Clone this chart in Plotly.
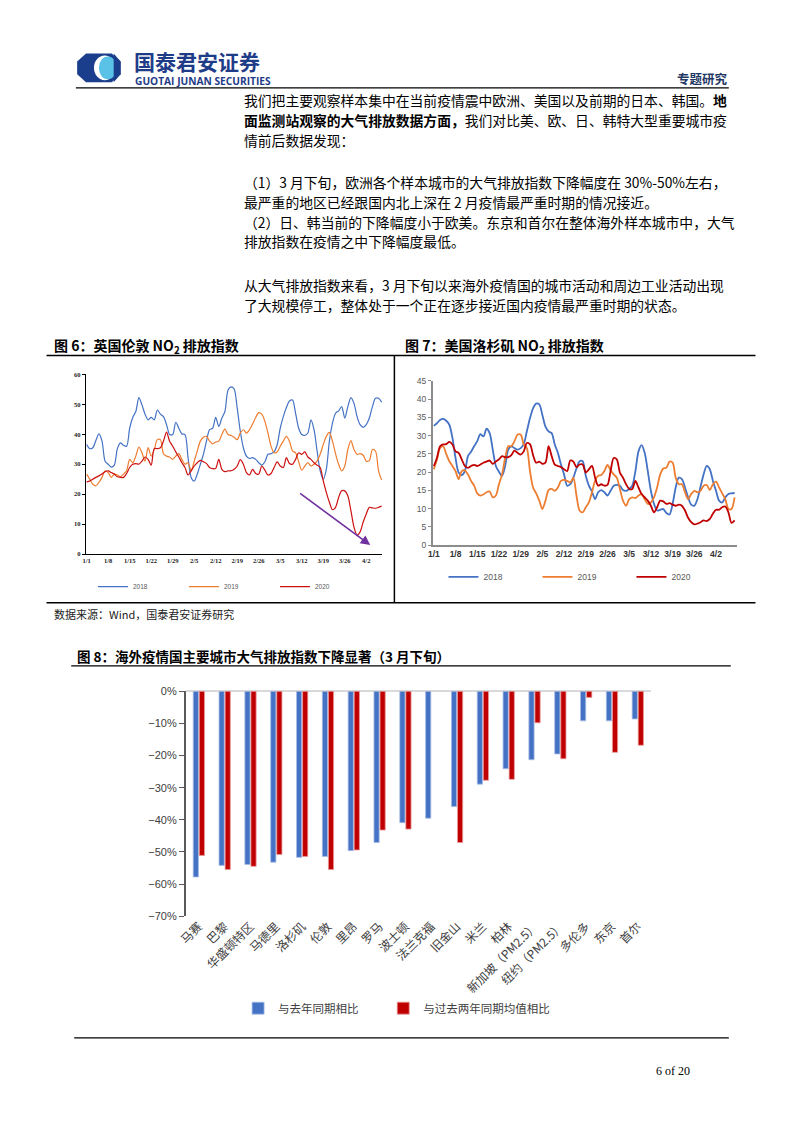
import plotly.graph_objects as go

W, H = 793, 1122
def X(px): return px / W
def Y(py): return 1 - py / H

CJK = "Noto Sans CJK SC"

# ---------------- data ----------------
TICK_LABELS = ["1/1", "1/8", "1/15", "1/22", "1/29", "2/5", "2/12", "2/19",
               "2/26", "3/5", "3/12", "3/19", "3/26", "4/2"]
SERIES_NAMES = ["2018", "2019", "2020"]

LONDON_2018 = [36.6, 35.2, 35.5, 37.9, 40.1, 37.7, 31.0, 30.0, 29.0, 29.7, 35.2, 37.1, 36.3, 36.0,
               42.0, 45.6, 47.6, 52.2, 49.8, 46.7, 44.8, 45.6, 44.8, 48.1, 46.7, 45.9, 43.2, 39.9,
               39.9, 44.0, 42.0, 40.1, 39.9, 32.2, 25.6, 24.4, 26.7, 30.0, 33.3, 37.7, 41.5, 42.0,
               45.6, 42.6, 45.4, 47.6, 54.7, 55.8, 55.1, 48.7, 41.0, 35.5, 32.7, 31.9, 32.2, 31.6,
               30.5, 29.7, 30.8, 33.3, 33.5, 34.1, 36.5, 42.0, 45.9, 48.9, 51.1, 51.4, 47.0, 42.0,
               39.9, 39.6, 40.4, 44.8, 41.5, 34.4, 27.8, 25.0, 28.3, 37.7, 43.7, 47.0, 47.8, 49.2,
               45.4, 49.2, 52.2, 50.3, 45.9, 43.2, 42.3, 43.2, 45.4, 49.2, 52.0, 52.0, 50.7]
LONDON_2019 = [26.7, 25.0, 23.3, 22.8, 23.9, 25.6, 27.8, 27.2, 25.6, 26.7, 26.4, 25.8, 26.7, 27.8,
               31.6, 30.5, 32.7, 35.7, 33.8, 31.0, 35.5, 32.7, 34.9, 38.2, 38.2, 33.5, 32.7, 32.4,
               31.6, 32.7, 33.5, 31.6, 30.0, 30.5, 27.8, 31.0, 34.4, 37.7, 39.0, 39.3, 37.7, 36.8,
               37.4, 37.7, 39.9, 41.7, 39.9, 39.6, 39.0, 38.2, 40.4, 41.5, 40.4, 41.5, 43.4, 45.6,
               47.2, 46.7, 44.3, 40.4, 36.0, 33.8, 34.1, 36.0, 37.7, 39.3, 37.7, 34.4, 33.8, 30.8,
               28.0, 29.4, 30.5, 29.4, 30.0, 31.0, 33.3, 36.6, 39.3, 40.6, 37.7, 33.5, 30.0, 27.8,
               29.4, 34.9, 37.9, 34.9, 33.3, 33.5, 33.0, 31.0, 31.2, 34.9, 34.4, 27.8, 24.7]
LONDON_2020 = [24.1, 24.4, 25.0, 25.6, 26.1, 26.7, 27.5, 27.8, 27.2, 26.7, 25.8, 25.6, 25.6, 26.9,
               28.9, 30.0, 30.2, 30.0, 31.0, 32.4, 31.6, 29.7, 35.2, 35.2, 35.5, 37.7, 40.7, 37.7,
               36.0, 34.1, 32.4, 30.5, 28.9, 26.4, 27.8, 29.4, 30.5, 31.3, 30.8, 30.2, 28.9, 28.5,
               28.6, 31.6, 28.3, 27.5, 27.8, 27.8, 28.3, 29.4, 31.5, 30.0, 27.2, 26.4, 28.3, 26.9,
               26.7, 29.4, 28.0, 26.4, 26.9, 28.9, 30.8, 29.4, 28.9, 32.2, 30.2, 30.0, 31.6, 33.8,
               33.3, 34.1, 32.4, 31.6, 30.5, 29.7, 28.9, 24.4, 20.6, 17.3, 14.8, 15.6, 18.9, 21.1,
               21.1, 19.5, 14.5, 9.0, 6.3, 7.4, 10.7, 13.4, 15.6, 15.4, 15.3, 15.6, 16.0]

LA_2018 = [32.7, 33.4, 34.3, 34.6, 34.1, 33.0, 29.4, 23.9, 19.9, 19.2, 20.3, 24.4, 25.6, 27.1,
           28.5, 30.4, 29.8, 31.9, 30.7, 26.2, 21.7, 20.1, 19.0, 21.7, 26.2, 27.1, 26.6, 26.2,
           26.6, 27.7, 31.2, 34.8, 37.5, 38.8, 38.6, 35.7, 32.5, 31.2, 30.7, 27.6, 25.3, 22.1,
           19.4, 16.3, 16.7, 18.5, 21.0, 23.0, 23.0, 19.0, 16.3, 14.7, 12.6, 14.5, 15.1, 14.5,
           13.6, 14.9, 16.3, 16.5, 16.3, 15.1, 14.9, 15.4, 16.3, 20.3, 25.7, 27.4, 25.3, 20.3,
           14.9, 11.3, 9.5, 9.7, 9.9, 8.8, 8.4, 11.3, 15.8, 18.5, 18.1, 15.8, 13.1, 11.1,
           10.8, 12.6, 16.0, 19.4, 21.7, 20.8, 17.6, 14.9, 12.2, 11.7, 13.1, 14.0, 14.2, 14.3]
LA_2019 = [20.8, 23.5, 26.6, 27.1, 25.0, 23.0, 21.7, 20.3, 18.1, 20.3, 20.5, 19.4, 17.6, 16.3,
           14.2, 13.6, 13.9, 14.5, 14.7, 13.1, 13.6, 16.7, 19.4, 23.9, 27.1, 27.1, 28.5, 30.3,
           30.3, 27.6, 26.6, 20.3, 15.8, 14.2, 12.2, 9.9, 12.2, 15.1, 15.4, 14.9, 15.8, 17.6,
           17.9, 17.6, 17.2, 18.5, 13.6, 9.5, 9.0, 10.4, 11.7, 14.5, 17.6, 19.0, 19.2, 20.3,
           22.0, 20.5, 19.4, 18.5, 15.4, 12.2, 10.8, 12.6, 13.1, 12.9, 13.6, 14.0, 12.6, 11.3,
           11.7, 13.1, 15.8, 19.4, 21.0, 21.2, 22.9, 22.6, 18.5, 16.7, 16.7, 14.5, 12.6, 14.0,
           14.9, 14.5, 14.9, 16.3, 16.5, 15.1, 16.7, 17.4, 15.8, 14.2, 12.6, 9.9, 9.9, 13.1]
LA_2020 = [21.7, 23.9, 27.1, 27.6, 27.7, 28.3, 27.6, 25.7, 25.3, 23.5, 21.7, 21.2, 21.7, 22.0,
           21.7, 22.1, 22.6, 22.9, 23.2, 22.3, 22.9, 23.5, 24.4, 24.1, 24.1, 24.7, 25.9, 25.3,
           24.8, 25.7, 28.0, 27.7, 24.7, 22.6, 22.9, 22.3, 22.6, 27.1, 24.4, 22.1, 21.7, 21.4,
           20.8, 20.3, 23.2, 22.9, 21.4, 22.1, 22.1, 19.9, 20.8, 21.7, 18.5, 16.3, 16.7, 16.3,
           16.5, 20.3, 23.9, 23.5, 19.9, 18.5, 16.7, 15.4, 15.4, 17.6, 15.8, 14.0, 13.1, 12.2,
           10.8, 9.0, 10.4, 12.2, 12.0, 11.3, 11.5, 11.1, 10.8, 11.1, 10.8, 9.5, 7.5, 6.3,
           5.7, 5.9, 6.3, 6.8, 6.6, 7.2, 8.6, 9.7, 9.7, 10.4, 10.6, 9.0, 6.1, 6.8]

CITIES = ["马赛", "巴黎", "华盛顿特区", "马德里", "洛杉矶", "伦敦", "里昂", "罗马", "波士顿",
          "法兰克福", "旧金山", "米兰", "柏林", "新加坡（PM2.5）", "纽约（PM2.5）", "多伦多",
          "东京", "首尔"]
VS_LAST_YEAR = [-57.8, -54.2, -53.9, -53.2, -51.7, -51.4, -49.6, -47.1, -40.9, -39.5, -35.9,
                -28.9, -24.1, -21.3, -19.5, -9.2, -9.2, -8.6]
VS_TWO_YEAR_AVG = [-51.1, -55.5, -54.5, -50.8, -51.4, -55.5, -49.4, -43.2, -42.9, None, -47.1,
                   -27.7, -27.4, -9.8, -21.0, -1.9, -19.0, -16.8]
BAR_NAMES = ["与去年同期相比", "与过去两年同期均值相比"]

BLUE, ORANGE, RED = "#4472C4", "#ED7D31", "#C00000"

fig = go.Figure()

# ---------- Fig 6: London ----------
for name, vals, col in zip(SERIES_NAMES, [LONDON_2018, LONDON_2019, LONDON_2020], [BLUE, ORANGE, "#CC1010"]):
    fig.add_trace(go.Scatter(x=list(range(len(vals))), y=vals, name=name, mode="lines",
                             line=dict(color=col, width=1.2, shape="spline", smoothing=0.8),
                             xaxis="x", yaxis="y", legend="legend"))

# ---------- Fig 7: Los Angeles ----------
for name, vals, col in zip(SERIES_NAMES, [LA_2018, LA_2019, LA_2020], [BLUE, ORANGE, RED]):
    fig.add_trace(go.Scatter(x=list(range(len(vals))), y=vals, name=name, mode="lines",
                             line=dict(color=col, width=1.8, shape="spline", smoothing=0.8),
                             xaxis="x2", yaxis="y2", legend="legend2"))

# ---------- Fig 8: bars ----------
fig.add_trace(go.Bar(x=CITIES, y=VS_LAST_YEAR, name=BAR_NAMES[0],
                     marker=dict(color=BLUE, line=dict(color="#A8BDE6", width=0.8)),
                     xaxis="x3", yaxis="y3", legend="legend3"))
fig.add_trace(go.Bar(x=CITIES, y=VS_TWO_YEAR_AVG, name=BAR_NAMES[1],
                     marker=dict(color=RED, line=dict(color="#E89A9A", width=0.8)),
                     xaxis="x3", yaxis="y3", legend="legend4"))

tickvals = [7 * i for i in range(len(TICK_LABELS))]

def leg(x, y, size, family, entry):
    return dict(orientation="h", x=X(x), y=Y(y), xanchor="left", yanchor="middle",
                entrywidth=entry, entrywidthmode="pixels", itemwidth=30,
                font=dict(family=family, size=size, color="#595959" if size < 10 else "#404040"),
                bgcolor="rgba(0,0,0,0)")

fig.update_layout(
    width=W, height=H, margin=dict(l=0, r=0, t=0, b=0),
    paper_bgcolor="white", plot_bgcolor="white",
    barmode="group", bargap=0.53, bargroupgap=0.14,
    font=dict(family=CJK, color="#000"),
    xaxis=dict(domain=[X(76.7), X(377)], range=[-0.3, 96.2], tickvals=tickvals, ticktext=TICK_LABELS,
               showgrid=False, zeroline=False, showline=True, linecolor="#000", linewidth=1,
               ticks="", tickfont=dict(family="Liberation Serif", size=6.5, color="#222", weight="bold"),
               anchor="y"),
    yaxis=dict(domain=[Y(554), Y(372.3)], range=[0, 60], dtick=10, showgrid=False, zeroline=False,
               showline=True, linecolor="#000", linewidth=1, ticks="outside", ticklen=3, tickcolor="#000",
               tickfont=dict(family="Liberation Serif", size=6.5, color="#222", weight="bold"), anchor="x"),
    xaxis2=dict(domain=[X(428.3), X(736.7)], range=[-0.3, 97.9], tickvals=tickvals, ticktext=TICK_LABELS,
                showgrid=False, zeroline=False, showline=True, linecolor="#8C8C8C", linewidth=2,
                ticks="", tickfont=dict(family="Liberation Sans", size=8.5, color="#333", weight="bold"),
                anchor="y2"),
    yaxis2=dict(domain=[Y(545), Y(379)], range=[0, 45], dtick=5, showgrid=False, zeroline=False,
                showline=True, linecolor="#8C8C8C", linewidth=2, ticks="outside", ticklen=3,
                tickcolor="#8C8C8C", tickfont=dict(family="Liberation Sans", size=8.5, color="#595959"),
                anchor="x2"),
    xaxis3=dict(domain=[X(178.2), X(648.9)], tickangle=-45, showgrid=False, zeroline=False,
                showline=False, ticks="", tickfont=dict(family=CJK, size=12, color="#404040"),
                anchor="y3"),
    yaxis3=dict(domain=[Y(920), Y(692.7)], range=[-70, 0], dtick=10, ticksuffix="%",
                showgrid=False, zeroline=True, zerolinecolor="#D9D9D9", zerolinewidth=2,
                showline=True, linecolor="#595959", linewidth=2, ticks="outside", ticklen=5,
                tickcolor="#595959", tickfont=dict(family="Liberation Sans", size=11, color="#404040"),
                anchor="x3"),
    legend=leg(84, 587, 6.5, "Liberation Sans", 46),
    legend2=leg(439, 577, 8.5, "Liberation Sans", 49),
    legend3=leg(231, 1013, 11.5, CJK, 0),
    legend4=leg(378, 1013, 11.5, CJK, 0),
)

# purple arrow in Fig 6
fig.add_annotation(x=92.3, y=3.0, ax=69, ay=20.6, xref="x", yref="y", axref="x", ayref="y",
                   showarrow=True, arrowhead=2, arrowsize=1.2, arrowwidth=1.6, arrowcolor="#7030A0", text="")

# ---------- page furniture ----------
def hline(y, x0, x1, w=1.2, c="#000"):
    fig.add_shape(type="line", xref="paper", yref="paper", x0=X(x0), x1=X(x1), y0=Y(y), y1=Y(y),
                  line=dict(color=c, width=w))

hline(82.7, 66.7, 728, 1.3)
hline(353.3, 37, 755, 1.5)
hline(603.3, 37, 755, 1.5)
fig.add_shape(type="line", xref="paper", yref="paper", x0=X(389.3), x1=X(389.3), y0=Y(353.3), y1=Y(603.3),
              line=dict(color="#000", width=1.5))
hline(667, 62, 730, 1.2)
hline(1043, 65, 728, 1.2)

# logo
def path(pts):
    return "M " + " L ".join(f"{X(a):.5f},{Y(b):.5f}" for a, b in pts) + " Z"
fig.add_shape(type="path", xref="paper", yref="paper",
              path=path([(77, 48), (103, 48), (112, 56), (112, 69), (103, 77), (77, 77), (68, 69), (68, 56)]),
              fillcolor="#1B3E8C", line=dict(width=0))
fig.add_shape(type="circle", xref="paper", yref="paper", x0=X(85), x1=X(107), y0=Y(75), y1=Y(50),
              fillcolor="white", line=dict(width=0))
fig.add_shape(type="circle", xref="paper", yref="paper", x0=X(90), x1=X(108), y0=Y(74), y1=Y(51),
              fillcolor="#5BC2E7", line=dict(width=0))
fig.add_shape(type="path", xref="paper", yref="paper",
              path=path([(105, 48), (112, 56), (112, 69), (105, 77)]),
              fillcolor="#1B3E8C", line=dict(width=0))

def text(s, x, y, size, color="#000", anchor="left", family=CJK, bold=False):
    fig.add_annotation(text=(f"<b>{s}</b>" if bold else s), x=X(x), y=Y(y), xref="paper", yref="paper",
                       xanchor=anchor, yanchor="middle", align=anchor, showarrow=False, borderpad=0,
                       font=dict(family=family, size=size, color=color))

text("国泰君安证券", 125, 55.5, 21, "#1F3C88", bold=True)
text("GUOTAI JUNAN SECURITIES", 126, 76, 10.2, "#1F3C88", family="Open Sans", bold=True)
text("专题研究", 728, 73, 12.5, "#1F3864", anchor="right", bold=True)

BODY = [
    (95, "我们把主要观察样本集中在当前疫情震中欧洲、美国以及前期的日本、韩国。<b>地</b>"),
    (115, "<b>面监测站观察的大气排放数据方面，</b>我们对比美、欧、日、韩特大型重要城市疫"),
    (135, "情前后数据发现："),
    (178, "（1）3 月下旬，欧洲各个样本城市的大气排放指数下降幅度在 30%-50%左右，"),
    (198, "最严重的地区已经跟国内北上深在 2 月疫情最严重时期的情况接近。"),
    (218, "（2）日、韩当前的下降幅度小于欧美。东京和首尔在整体海外样本城市中，大气"),
    (238, "排放指数在疫情之中下降幅度最低。"),
    (282, "从大气排放指数来看，3 月下旬以来海外疫情国的城市活动和周边工业活动出现"),
    (302, "了大规模停工，整体处于一个正在逐步接近国内疫情最严重时期的状态。"),
]
for y, s in BODY:
    text(s, 236, y, 13.8)

text("图 6：英国伦敦 NO<sub>2</sub> 排放指数", 44, 344, 14, bold=True)
text("图 7：美国洛杉矶 NO<sub>2</sub> 排放指数", 399, 344, 14, bold=True)
text("数据来源：Wind，国泰君安证券研究", 44, 615, 11, "#222")
text("图 8：海外疫情国主要城市大气排放指数下降显著（3 月下旬）", 67, 657, 13.5, bold=True)
text("6 of 20", 690, 1077, 12, anchor="right", family="Liberation Serif")

fig.write_html("out.html", config={"displayModeBar": False},
               post_script="document.body.style.margin='0';document.body.style.overflow='hidden';")
